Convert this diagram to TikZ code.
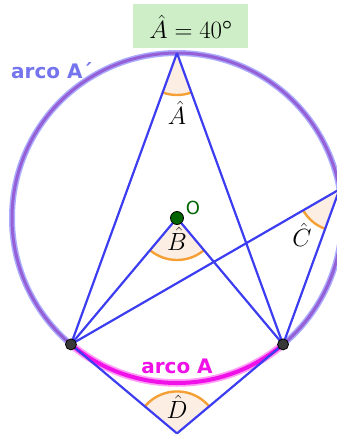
\documentclass[tikz,border=0pt]{standalone}
\usepackage{amsmath}
\usepackage{fontspec}
\usetikzlibrary{calc}
\newfontfamily\labelfont{DejaVu Sans}
\definecolor{linebl}{HTML}{3C3CF0}
\definecolor{circcore}{HTML}{9560D6}
\definecolor{circhalo}{HTML}{AAAAFF}
\definecolor{magcore}{HTML}{F010E8}
\definecolor{maghalo}{HTML}{FF9CF6}
\definecolor{secfill}{HTML}{FDEEE4}
\definecolor{secarc}{HTML}{F5A035}
\definecolor{titlebg}{HTML}{CDEEC6}
\definecolor{ogreen}{HTML}{006400}
\definecolor{arcolbl}{HTML}{7474EE}
\tikzset{
  seg/.style={draw=linebl, line width=2.2pt},
  secarcst/.style={draw=secarc, line width=2.4pt},
  ptst/.style={circle, fill=black!78, draw=black, line width=0.8pt, minimum size=11pt, inner sep=0pt},
  optst/.style={circle, fill=ogreen, draw=black, line width=0.8pt, minimum size=13pt, inner sep=0pt},
  anglbl/.style={font=\fontsize{24}{28}\selectfont, inner sep=0pt}
}
\begin{document}
\begin{tikzpicture}[x=1pt,y=-1pt]
\useasboundingbox (0,0) rectangle (337,437);
\clip (0,0) rectangle (337,437);
% geometry
\coordinate (O) at (177,218);
\coordinate (A) at ($(O)+(-90:165)$);
\coordinate (P1) at ($(O)+(130:165)$);
\coordinate (P2) at ($(O)+(50:165)$);
\coordinate (C) at ($(O)+(-10:165)$);
\coordinate (D) at (177,433.4);
% circle
\draw[circhalo, line width=6pt] (O) circle[radius=165];
\draw[circcore, line width=3pt] (O) circle[radius=165];
% sectors fill
\fill[secfill] (A) -- ++(70:42) arc[start angle=70, end angle=110, radius=42] -- cycle;
\fill[secfill] (O) -- ++(50:42) arc[start angle=50, end angle=130, radius=42] -- cycle;
\fill[secfill] (C) -- ++(110:42) arc[start angle=110, end angle=150, radius=42] -- cycle;
\fill[secfill] (D) -- ++(220:42) arc[start angle=220, end angle=320, radius=42] -- cycle;
\draw[secarcst] (A) ++(70:42) arc[start angle=70, end angle=110, radius=42];
\draw[secarcst] (O) ++(50:42) arc[start angle=50, end angle=130, radius=42];
\draw[secarcst] (C) ++(110:42) arc[start angle=110, end angle=150, radius=42];
\draw[secarcst] (D) ++(220:42) arc[start angle=220, end angle=320, radius=42];
% magenta arc A
\draw[maghalo, line width=7.5pt] (P1) arc[start angle=130, end angle=50, radius=165];
\draw[magcore, line width=4pt] (P1) arc[start angle=130, end angle=50, radius=165];
% segments
\draw[seg] (A) -- (P1);
\draw[seg] (A) -- (P2);
\draw[seg] (O) -- (P1);
\draw[seg] (O) -- (P2);
\draw[seg] (C) -- (P1);
\draw[seg] (C) -- (P2);
\draw[seg] (P1) -- (D);
\draw[seg] (P2) -- (D);
% points
\node[ptst] (p1) at (P1) {};
\node[ptst] (p2) at (P2) {};
\node[optst] (o) at (O) {};
% labels
\node[anglbl] (la) at (177,113) {$\hat{A}$};
\node[anglbl] (lb) at (177,239) {$\hat{B}$};
\node[anglbl] (lc) at (302,235) {$\hat{C}$};
\node[anglbl] (ld) at (177,407) {$\hat{D}$};
\node[font=\labelfont\fontsize{18}{20}\selectfont, text=ogreen, inner sep=0pt] (ol) at (193,208) {O};
\node[fill=titlebg, minimum width=115pt, minimum height=44pt, inner sep=0pt] (title) at (190.5,26) {};
\node[font=\fontsize{25}{29}\selectfont, inner sep=0pt] (titletxt) at (191,27) {$\hat{A} = 40^{\boldsymbol{\circ}}$};
\node[font=\labelfont\bfseries\fontsize{20}{22}\selectfont, text=arcolbl, anchor=base west, inner sep=0pt] (arcoAp) at (11,78) {arco A´};
\node[font=\labelfont\bfseries\fontsize{20}{22}\selectfont, text=magcore, anchor=base, inner sep=0pt] (arcoA) at (177,373) {arco A};
\end{tikzpicture}
\end{document}
